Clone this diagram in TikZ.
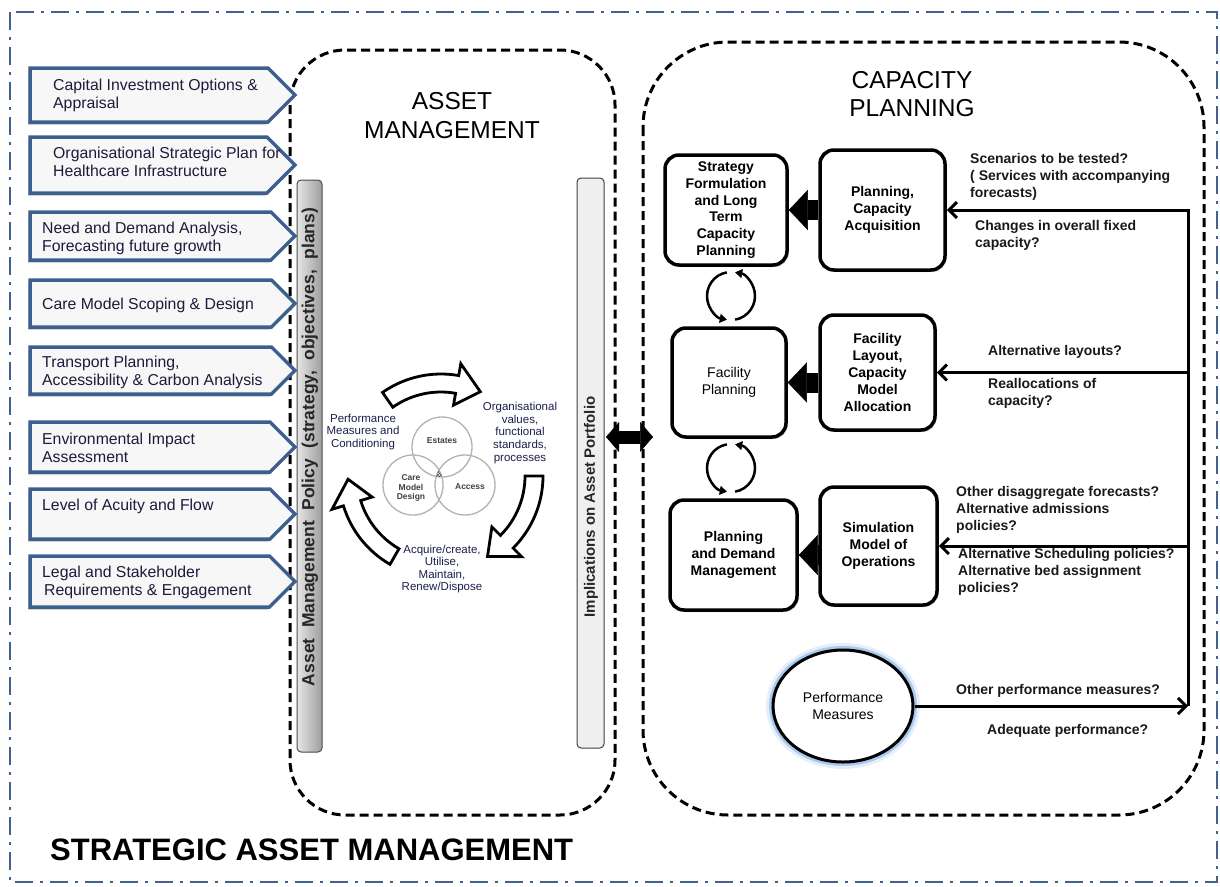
\documentclass[tikz,border=0pt]{standalone}
\usepackage{fontspec}
\setmainfont{Liberation Sans}
\usetikzlibrary{shapes.symbols,shapes.geometric,arrows.meta,shadows,patterns,calc}
\definecolor{frameblue}{HTML}{41628F}
\definecolor{boxblue}{HTML}{3D5F8D}
\definecolor{lboxtext}{HTML}{22183A}
\definecolor{navytext}{HTML}{1B1F4A}
\definecolor{glowblue}{HTML}{A9C9EE}
\definecolor{bargray}{HTML}{EFEFEF}
\newcommand\cycarrow[2]{%
  \pgfmathsetmacro\cycbase{#2+15}%
  \draw[cyc] (#1:102) arc[start angle=#1, end angle=\cycbase, radius=102]
    -- (\cycbase:114) -- (#2:93) -- (\cycbase:72) -- (\cycbase:84)
    arc[start angle=\cycbase, end angle=#1, radius=84] -- cycle;}
\begin{document}
\begin{tikzpicture}[x=1pt, y=-1pt,
  dashbox/.style={draw=black, line width=3pt, dash pattern=on 9pt off 5pt},
  lbox/.style={signal, signal to=east, signal from=nowhere, signal pointer angle=90,
    draw=boxblue, line width=3.5pt, fill=black!3, minimum width=265pt,
    outer sep=0pt, inner sep=0pt, anchor=west,
    drop shadow={shadow xshift=-2pt, shadow yshift=-3pt, opacity=0.35}},
  ltext/.style={anchor=west, align=left, inner sep=0pt, text=lboxtext,
    font=\fontsize{15.8}{18}\selectfont},
  rbox/.style={draw=black, line width=3.5pt, rounded corners=14pt, fill=white,
    align=center, inner sep=2pt, font=\bfseries\fontsize{14}{16.8}\selectfont,
    drop shadow={shadow xshift=1.5pt, shadow yshift=-2pt, opacity=0.4}},
  rlabel/.style={anchor=west, align=left, inner sep=0pt,
    font=\bfseries\fontsize{14}{17}\selectfont, text=black!90},
  ctext/.style={align=center, inner sep=0pt, text=navytext,
    font=\fontsize{11.5}{12.6}\selectfont},
  vlabel/.style={align=center, inner sep=0pt, text=black!75,
    font=\bfseries\fontsize{8.5}{9.5}\selectfont},
  venn/.style={circle, draw=black!30, line width=1.3pt, minimum size=60pt, inner sep=0pt},
  cyc/.style={draw=black, line width=2.8pt, fill=white},
  polbar/.style={draw=black!70, line width=1pt, rounded corners=4pt,
    left color=black!10, right color=black!38, minimum width=25pt, minimum height=572pt},
  implbar/.style={draw=black!75, line width=1pt, rounded corners=4pt,
    fill=bargray, minimum width=27pt, minimum height=570pt},
  bartext/.style={inner sep=0pt, text=black!85, font=\bfseries\fontsize{15}{17}\selectfont},
  fat/.style={line width=20pt, -{Triangle[length=19pt,width=40pt,line width=0.5pt]}},
  dbl/.style={line width=13pt,
    {Triangle[length=13pt,width=30pt,line width=0.5pt]}-{Triangle[length=13pt,width=30pt,line width=0.5pt]}},
  loopa/.style={line width=2.5pt, -{Triangle[length=7pt,width=9pt,line width=0.5pt]}},
  fb/.style={line width=3pt},
  barb/.style={-{Straight Barb[length=8pt,width=16pt]}}
]
\useasboundingbox (0,0) rectangle (1220,886);

% outer frame
\draw[frameblue, line width=2.5pt, dash pattern=on 18pt off 7pt on 3pt off 7pt] (10,12) rectangle (1217,882);

% panels
\draw[dashbox, rounded corners=55pt] (290,50) rectangle (615,815);
\draw[dashbox, rounded corners=85pt] (643,42) rectangle (1204,815);

\node[align=center, inner sep=0pt, font=\fontsize{24.5}{29}\selectfont] (amtitle) at (452,116) {ASSET\\MANAGEMENT};
\node[align=center, inner sep=0pt, font=\fontsize{24.5}{28}\selectfont] (cptitle) at (912,94) {CAPACITY\\PLANNING};

% left input arrows
\node[lbox, minimum height=54pt] (b1) at (30,95) {};
\node[ltext] (t1) at (53,95) {Capital Investment Options \&\\Appraisal};
\node[lbox, minimum height=56pt] (b2) at (30,165) {};
\node[ltext] (t2) at (53,162) {Organisational Strategic Plan for\\Healthcare Infrastructure};
\node[lbox, minimum height=48pt] (b3) at (30,236) {};
\node[ltext] (t3) at (42,238) {Need and Demand Analysis,\\Forecasting future growth};
\node[lbox, minimum height=47pt] (b4) at (30,303.5) {};
\node[ltext] (t4) at (42,305) {Care Model Scoping \& Design};
\node[lbox, minimum height=47pt] (b5) at (30,370.5) {};
\node[ltext] (t5) at (42,372) {Transport Planning,\\Accessibility \& Carbon Analysis};
\node[lbox, minimum height=50pt] (b6) at (30,447) {};
\node[ltext] (t6) at (42,448) {Environmental Impact\\Assessment};
\node[lbox, minimum height=50pt] (b7) at (30,514) {};
\node[ltext] (t7) at (42,506) {Level of Acuity and Flow};
\node[lbox, minimum height=51pt] (b8) at (30,581.5) {};
\node[ltext] (t8) at (42,582) {Legal and Stakeholder\\\hspace*{2pt}Requirements \& Engagement};

% bars
\node[polbar] (pol) at (309.5,466) {};
\node[bartext, font=\bfseries\fontsize{17.5}{19}\selectfont, rotate=90] (poltext) at (310,447) {\spaceskip=0.6em Asset Management Policy (strategy, objectives, plans)};
\node[implbar] (imp) at (590.5,463) {};
\node[bartext, rotate=90] (imptext) at (591,507) {Implications on Asset Portfolio};

% centre cycle
\node[venn] (est) at (442,447) {};
\node[venn] (care) at (413,485) {};
\node[venn] (acc) at (465,485) {};
\begin{scope}
  \clip (442,447) circle[radius=30];
  \clip (413,485) circle[radius=30];
  \fill[pattern=crosshatch, pattern color=black!70] (465,485) circle[radius=30];
\end{scope}
\node[vlabel] (estl) at (442,441) {Estates};
\node[vlabel] (carel) at (411,488) {Care\\Model\\Design};
\node[vlabel] (accl) at (470,487) {Access};
\begin{scope}[shift={(441,476)}, yscale=-1]
  \cycarrow{125}{65}
  \cycarrow{0}{-60}
  \cycarrow{240}{182}
\end{scope}
\node[ctext] (pmc) at (363,432) {Performance\\Measures and\\Conditioning};
\node[ctext] (ovf) at (520,433) {Organisational\\values,\\functional\\standards,\\processes};
\node[ctext] (acq) at (442,569) {Acquire/create,\\Utilise,\\Maintain,\\Renew/Dispose};

% link between panels
\coordinate (dl) at (606,437);
\coordinate (dr) at (653,437);
\draw[dbl] (dl) -- (dr);

% capacity planning boxes
\node[rbox, minimum width=122pt, minimum height=110pt] (strat) at (726,210) {Strategy\\Formulation\\and Long\\Term\\Capacity\\Planning};
\node[rbox, minimum width=125pt, minimum height=120pt] (plan) at (882.5,210) {Planning,\\Capacity\\Acquisition};
\node[rbox, font=\fontsize{14}{16.8}\selectfont, minimum width=114pt, minimum height=109pt] (facp) at (729,382.5) {Facility\\Planning};
\node[rbox, minimum width=115pt, minimum height=115pt] (lay) at (877.5,372.5) {Facility\\Layout,\\Capacity\\Model\\Allocation};
\node[rbox, minimum width=127pt, minimum height=110pt] (pdm) at (733.5,555) {Planning\\and Demand\\Management};
\node[rbox, minimum width=117pt, minimum height=118pt] (sim) at (878.5,546) {Simulation\\Model of\\Operations};
\node[ellipse, draw=black, line width=3pt, fill=white, minimum width=140pt, minimum height=112pt,
  align=center, inner sep=0pt, font=\fontsize{14}{17}\selectfont,
  preaction={draw=glowblue!60, line width=14pt, opacity=0.5},
  preaction={draw=glowblue, line width=8pt}] (perf) at (843,706) {Performance\\Measures};

\draw[fat] (plan.west) -- (strat.east);
\draw[fat] (lay.west |- facp.east) -- (facp.east);
\draw[fat] (sim.west |- pdm.east) -- (pdm.east);

\coordinate (c1) at (731,296);
\coordinate (c2) at (731,468);
\draw[loopa] (c1) ++(260:24) arc[start angle=260, end angle=100, radius=24];
\draw[loopa] (c1) ++(80:24) arc[start angle=80, end angle=-80, radius=24];
\draw[loopa] (c2) ++(260:24) arc[start angle=260, end angle=100, radius=24];
\draw[loopa] (c2) ++(80:24) arc[start angle=80, end angle=-80, radius=24];

% feedback lines
\coordinate (fbx) at (1188,0);
\draw[fb, {Straight Barb[length=8pt,width=16pt]}-] (plan.east) -- (plan.east -| fbx) -- (perf.east -| fbx);
\draw[fb, barb] (lay.east -| fbx) -- (lay.east);
\draw[fb, barb] (sim.east -| fbx) -- (sim.east);
\draw[fb, barb] (perf.east) -- (perf.east -| fbx);

\node[rlabel] (q1) at (970,177) {Scenarios to be tested?\\( Services with accompanying\\forecasts)};
\node[rlabel] (q2) at (975,235.5) {Changes in overall fixed\\capacity?};
\node[rlabel] (q3) at (988,352) {Alternative layouts?};
\node[rlabel] (q4) at (988,393.5) {Reallocations of\\capacity?};
\node[rlabel] (q5) at (956,509.5) {Other disaggregate forecasts?\\Alternative admissions\\policies?};
\node[rlabel] (q6) at (958,572) {Alternative Scheduling policies?\\Alternative bed assignment\\policies?};
\node[rlabel] (q7) at (956,691) {Other performance measures?};
\node[rlabel] (q8) at (987,731) {Adequate performance?};

\node[anchor=west, inner sep=0pt, font=\bfseries\fontsize{31}{34}\selectfont] (sam) at (50,850) {STRATEGIC ASSET MANAGEMENT};
\end{tikzpicture}
\end{document}
